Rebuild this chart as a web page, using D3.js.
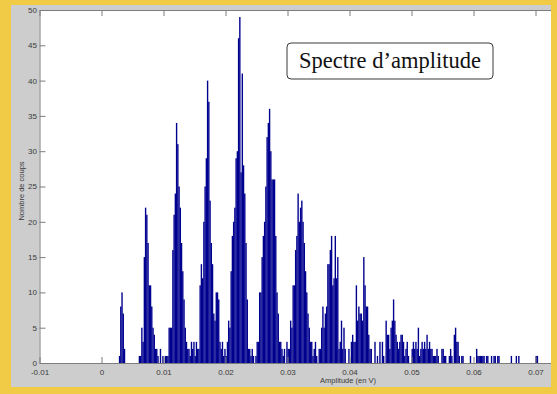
<!DOCTYPE html>
<html>
<head>
<meta charset="utf-8">
<script src="https://cdn.jsdelivr.net/npm/d3@7"></script>
<style>
  html, body { margin: 0; padding: 0; background: #f2cb46; }
  svg { display: block; }
  .tick-label { font-family: "Liberation Sans", Arial, sans-serif; font-size: 8px; fill: #3a3a3a; }
</style>
</head>
<body>
<svg id="chart" width="557" height="394"></svg>
<script>
// histogram: counts per bin, starting at binStart, each binWidth volts wide
var binStart = 0.0028;
var binWidth = 0.0002;
var counts = [
    1, 8, 10, 7, 2,
    0, 0, 0, 0, 0, 0, 0, 0, 0, 0, 0,
    1, 1, 5, 3, 15, 22, 21, 17, 11, 11, 8, 5, 4, 2, 2, 1, 0, 2, 0, 1, 0, 1, 1, 1,
    5, 5, 5, 16, 21, 24, 34, 31, 25, 22, 17, 13, 9, 5, 3, 2, 2, 1, 3, 2, 3, 1, 3, 2, 2,
    11, 14, 12, 20, 25, 29, 40, 37, 23, 17, 14, 7, 6, 10, 10, 9, 3, 2, 3, 1, 2, 1, 3, 6, 5,
    13, 18, 20, 22, 29, 30, 46, 49, 27, 41, 28, 24, 17, 9, 2, 2, 1, 2, 1, 0, 1, 3, 3, 10, 10,
    15, 18, 20, 25, 32, 34, 36, 30, 26, 26, 26, 18, 10, 7, 3, 3, 2, 1, 2, 0, 3, 2, 2, 6, 5,
    11, 11, 16, 18, 24, 20, 22, 23, 20, 17, 13, 10, 7, 5, 3, 3, 1, 2, 3, 1, 0, 2, 2, 5, 8,
    5, 7, 8, 14, 14, 16, 18, 11, 12, 18, 12, 15, 2, 3, 6, 2, 5, 2, 0, 0, 2, 0, 3, 4, 3,
    3, 11, 6, 8, 7, 7, 6, 15, 11, 8, 8, 4, 2, 2, 0, 0, 3, 0, 1, 0, 3, 0, 3, 1, 0,
    6, 4, 4, 2, 5, 6, 9, 6, 4, 3, 2, 3, 4, 4, 3, 1, 2, 3, 1, 0, 0, 2, 3, 2, 3,
    2, 5, 1, 2, 3, 2, 3, 2, 4, 2, 3, 2, 2, 1, 1, 1, 2, 1, 0, 0, 2, 2, 1, 1, 0,
    0, 1, 2, 1, 0, 4, 5, 3, 3, 1, 0, 1, 1, 0, 0, 0, 0, 0, 1, 0, 0, 0, 0, 2, 1,
    1, 1, 1, 1, 1, 0, 1, 1, 0, 0, 1, 0, 1, 1, 0, 1, 1, 0, 0, 0, 0, 0, 0, 0, 0,
    0, 1, 0, 0, 0, 1, 0, 1, 0, 0, 0, 0, 0, 0, 0, 0, 0, 0, 0, 0, 0, 1, 1
];
var xTicks = [-0.01, 0, 0.01, 0.02, 0.03, 0.04, 0.05, 0.06, 0.07];
var xTickLabels = ["-0.01", "0", "0.01", "0.02", "0.03", "0.04", "0.05", "0.06", "0.07"];
var yTicks = [0, 5, 10, 15, 20, 25, 30, 35, 40, 45, 50];

var titleText = "Spectre d\u2019amplitude";
var xLabel = "Amplitude (en V)";
var yLabel = "Nombre de coups";

var svg = d3.select("#chart");

// figure panel (grey), cropped on the right by the yellow frame
svg.append("rect")
    .attr("x", 11).attr("y", 5)
    .attr("width", 546).attr("height", 382)
    .attr("fill", "#cdcdcd");

var plot = { left: 39.5, top: 10, bottom: 363 };

// axis goes to 0.08 but the shot is cut at 0.0725
var x = d3.scaleLinear().domain([-0.01, 0.08]).range([plot.left, plot.left + 0.09 * 6200]);
var y = d3.scaleLinear().domain([0, 50]).range([plot.bottom, plot.top]);

svg.append("rect")
    .attr("x", x(-0.01)).attr("y", y(50))
    .attr("width", x(0.08) - x(-0.01)).attr("height", y(0) - y(50))
    .attr("fill", "#fff");

var bins = counts.map(function (c, i) {
    return { x0: binStart + i * binWidth, x1: binStart + (i + 1) * binWidth, n: c };
}).filter(function (d) { return d.n > 0; });

svg.append("g")
    .selectAll("rect")
    .data(bins)
    .enter().append("rect")
    .attr("x", function (d) { return x(d.x0); })
    .attr("y", function (d) { return y(d.n); })
    .attr("width", function (d) { return x(d.x1) - x(d.x0) + 0.15; })
    .attr("height", function (d) { return y(0) - y(d.n); })
    .attr("fill", "#00008f");

// axes (box on, ticks inside)
var axisColor = "#7d7d7d";

var bottomAxis = d3.axisBottom(x).tickValues(xTicks).tickSize(-6).tickFormat(function (d, i) { return xTickLabels[i]; });
var topAxis = d3.axisTop(x).tickValues(xTicks).tickSize(-6).tickFormat("");
var leftAxis = d3.axisLeft(y).tickValues(yTicks).tickSize(-6).tickFormat(d3.format("d"));

function styleAxis(g) {
    g.select(".domain").attr("stroke", axisColor);
    g.selectAll(".tick line").attr("stroke", axisColor);
    g.selectAll(".tick text").attr("class", "tick-label").attr("fill", null);
    g.attr("font-size", null).attr("font-family", null);
}

svg.append("g")
    .attr("transform", "translate(0," + plot.bottom + ")")
    .call(bottomAxis.tickSizeOuter(0))
    .call(styleAxis)
    .selectAll(".tick text").attr("dy", "0").attr("y", 11.5);

svg.append("g")
    .attr("transform", "translate(0," + plot.top + ")")
    .call(topAxis.tickSizeOuter(0))
    .call(styleAxis);

svg.append("g")
    .attr("transform", "translate(" + plot.left + ",0)")
    .call(leftAxis.tickSizeOuter(0))
    .call(styleAxis)
    .selectAll(".tick text").attr("x", -2.5).attr("dy", "0.3em");

// axis labels
svg.append("text")
    .attr("class", "tick-label")
    .attr("x", 348).attr("y", 383)
    .attr("text-anchor", "middle")
    .style("font-size", "7.5px")
    .text(xLabel);

svg.append("text")
    .attr("class", "tick-label")
    .attr("transform", "translate(24,191) rotate(-90)")
    .attr("text-anchor", "middle")
    .style("font-size", "7.5px")
    .text(yLabel);

// title box
svg.append("rect")
    .attr("x", 287).attr("y", 43)
    .attr("width", 206).attr("height", 36)
    .attr("rx", 4)
    .attr("fill", "#fff")
    .attr("stroke", "#3a3a3a")
    .attr("stroke-width", 1);

svg.append("text")
    .attr("x", 390).attr("y", 68)
    .attr("text-anchor", "middle")
    .attr("font-family", "'Liberation Serif', 'Times New Roman', serif")
    .attr("font-size", 22.5)
    .attr("fill", "#111")
    .text(titleText);

// yellow frame on the right (screenshot crop)
svg.append("rect")
    .attr("x", 551).attr("y", 0)
    .attr("width", 6).attr("height", 394)
    .attr("fill", "#f2cb46");
</script>
</body>
</html>
